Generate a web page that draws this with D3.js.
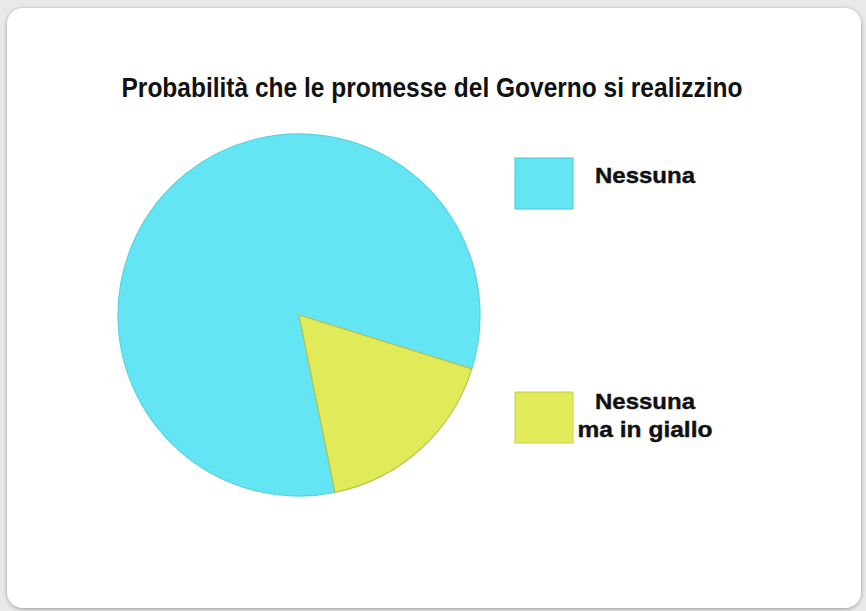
<!DOCTYPE html>
<html>
<head>
<meta charset="utf-8">
<script src="https://cdn.jsdelivr.net/npm/d3@7"></script>
<style>
  body { margin: 0; background: #e9e9e9; }
  svg { display: block; }
</style>
</head>
<body>
<script>
// Chart data
var categories = ["Nessuna", "Nessuna ma in giallo"];
var legendLines = [["Nessuna"], ["Nessuna", "ma in giallo"]];
var values = [83, 17];
var colors = ["#63e5f3", "#e1ea58"];
var titleText = "Probabilità che le promesse del Governo si realizzino";

var svgWidth = 866;
var svgHeight = 611;

var svg = d3.select("body")
  .append("svg")
  .attr("width", svgWidth)
  .attr("height", svgHeight);

var defs = svg.append("defs");
var shadow = defs.append("filter").attr("id", "shadow")
  .attr("x", "-5%").attr("y", "-5%").attr("width", "110%").attr("height", "110%");
shadow.append("feDropShadow")
  .attr("dx", 0).attr("dy", 1).attr("stdDeviation", 2)
  .attr("flood-color", "#000").attr("flood-opacity", 0.35);

// card
svg.append("rect")
  .attr("x", 7).attr("y", 8)
  .attr("width", 854).attr("height", 600)
  .attr("rx", 16).attr("ry", 16)
  .attr("fill", "#ffffff")
  .attr("filter", "url(#shadow)");

// title
svg.append("text")
  .attr("x", 432)
  .attr("y", 97)
  .attr("text-anchor", "middle")
  .attr("textLength", 621)
  .attr("lengthAdjust", "spacingAndGlyphs")
  .style("font-family", "'Liberation Sans Narrow', 'Liberation Sans', Arial, sans-serif")
  .style("font-weight", "bold")
  .style("font-size", "27px")
  .style("fill", "#111")
  .text(titleText);

// pie
var radius = 181;
var pieGroup = svg.append("g")
  .attr("transform", "translate(299, 315)");

var pie = d3.pie()
  .sort(null)
  .value(d => d)
  .startAngle(168.5 * Math.PI / 180)
  .endAngle((168.5 + 360) * Math.PI / 180);

var arc = d3.arc().innerRadius(0).outerRadius(radius);

pieGroup.selectAll(".slice")
  .data(pie(values))
  .enter()
  .append("path")
  .classed("slice", true)
  .attr("d", arc)
  .attr("fill", (d, i) => colors[i])
  .attr("stroke", (d, i) => i === 0 ? "#5ad2e0" : "#b9c24a")
  .attr("stroke-width", 1.2);

// legend
var legendY = d3.scalePoint()
  .domain(categories)
  .range([158, 392]);

var legend = svg.selectAll(".legend")
  .data(categories)
  .enter()
  .append("g")
  .classed("legend", true)
  .attr("transform", d => `translate(515, ${legendY(d)})`);

legend.append("rect")
  .attr("width", 58)
  .attr("height", 51)
  .attr("fill", (d, i) => colors[i])
  .attr("stroke", (d, i) => i === 0 ? "#4fc3d2" : "#c8d04c")
  .attr("stroke-width", 1);

// wide, heavy labels as in the original image
var lineWidth = { "Nessuna": 100, "ma in giallo": 135 };

legend.append("text")
  .attr("x", 130)
  .attr("y", (d, i) => i === 0 ? 25 : 17)
  .attr("text-anchor", "middle")
  .style("font-family", "'Liberation Sans', Arial, sans-serif")
  .style("font-weight", "bold")
  .style("font-size", "22px")
  .style("fill", "#111")
  .style("stroke", "#111")
  .style("stroke-width", 0.4)
  .each(function(d, i) {
    d3.select(this).selectAll("tspan")
      .data(legendLines[i])
      .enter()
      .append("tspan")
      .attr("x", 130)
      .attr("dy", (t, j) => j === 0 ? 0 : 28)
      .attr("textLength", t => lineWidth[t])
      .attr("lengthAdjust", "spacingAndGlyphs")
      .text(t => t);
  });
</script>
</body>
</html>
